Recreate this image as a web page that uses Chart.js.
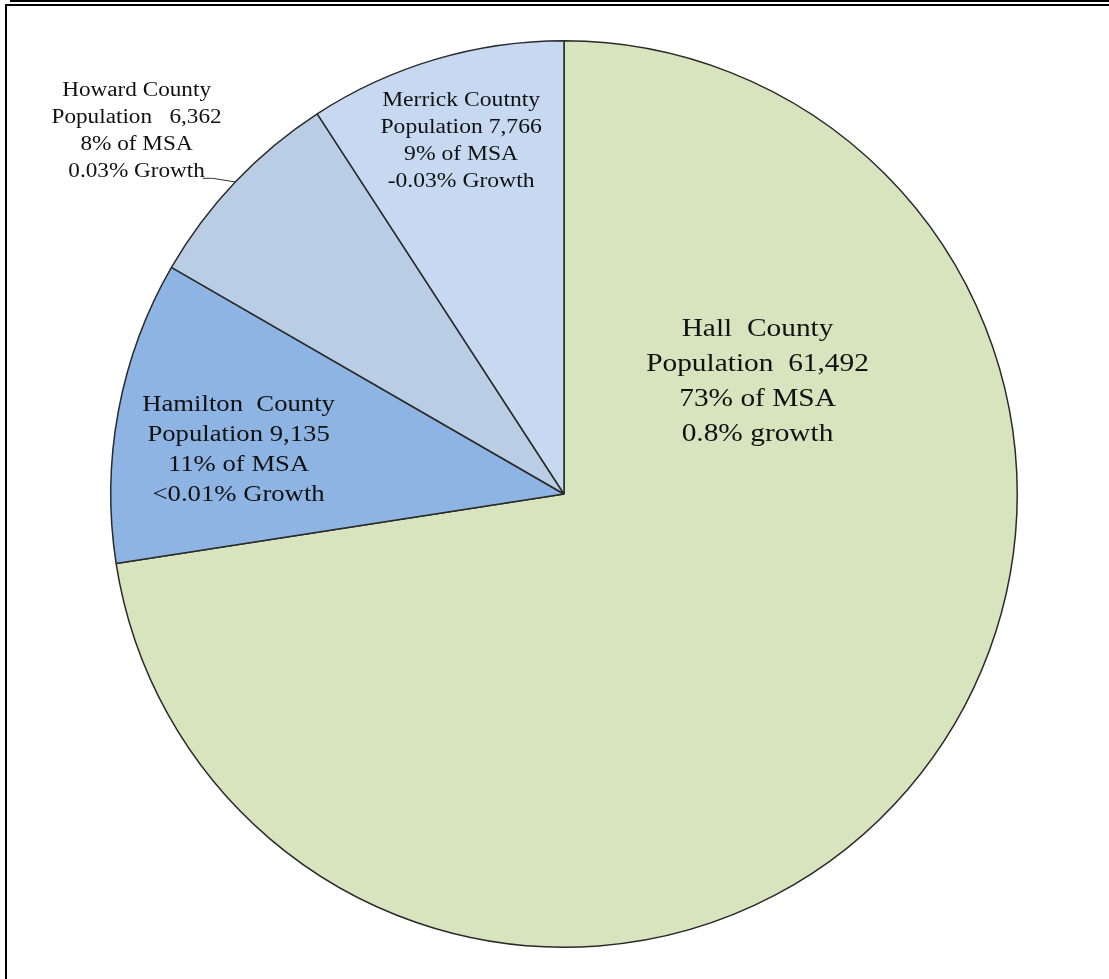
<!DOCTYPE html>
<html lang="en">
<head>
  <meta charset="UTF-8" />
  <title>MSA Population by County</title>
  <script src="https://cdn.jsdelivr.net/npm/chart.js"></script>
  <style>
    html, body { margin: 0; padding: 0; background: #fff; }
    #wrap { position: relative; width: 1109px; height: 979px; overflow: hidden; }
    #pie { position: absolute; left: 0; top: 0; }
    /* double top rule + left rule of the original frame */
    .rule1 { position: absolute; left: 10px; right: 0; top: 0; border-top: 2px solid #000; }
    .rule2 { position: absolute; left: 5px; right: 0; top: 4px; bottom: 0; border-top: 2px solid #000; border-left: 2px solid #000; }
  </style>
</head>
<body>
  <div id="wrap">
    <canvas id="pie" width="1109" height="979"></canvas>
    <div class="rule1"></div>
    <div class="rule2"></div>
  </div>

  <script>
    // data
    const counties = ['Hall County', 'Hamilton County', 'Howard County', 'Merrick Coutnty'];
    const population = [61492, 9135, 6362, 7766];
    const sliceColors = ['#d7e4bd', '#8eb4e3', '#b9cde5', '#c6d9f1'];

    // label text per slice, as printed on the chart
    const labelLines = [
      ['Hall  County', 'Population  61,492', '73% of MSA', '0.8% growth'],
      ['Hamilton  County', 'Population 9,135', '11% of MSA', '<0.01% Growth'],
      ['Howard County', 'Population   6,362', '8% of MSA', '0.03% Growth'],
      ['Merrick Coutnty', 'Population 7,766', '9% of MSA', '-0.03% Growth']
    ];

    // label placement, as fractions of the pie radius from its centre
    const labelAt = [[0.427, -0.247], [-0.718, -0.097], [-0.943, -0.80], [-0.227, -0.778]];
    const labelFont = [26, 23, 20, 20];
    const labelGap = [35, 30, 27, 27];
    const labelStretch = [1.13, 1.16, 1.16, 1.18]; // original text is a bit wide
    const leaderFor = [false, false, true, false];

    const sliceLabels = {
      id: 'sliceLabels',
      afterDatasetsDraw(chart) {
        const c = chart.ctx;
        const arcs = chart.getDatasetMeta(0).data;
        arcs.forEach((arc, i) => {
          const { x, y, outerRadius, startAngle, endAngle } = arc.getProps(['x', 'y', 'outerRadius', 'startAngle', 'endAngle'], true);
          const cx = x + labelAt[i][0] * outerRadius;
          const cy = y + labelAt[i][1] * outerRadius;
          const lines = labelLines[i];
          const sx = labelStretch[i];
          c.save();
          c.fillStyle = '#111';
          c.textAlign = 'center';
          c.textBaseline = 'middle';
          c.font = labelFont[i] + 'px "Liberation Serif", "Times New Roman", serif';
          c.translate(cx, cy);
          c.scale(sx, 1);
          lines.forEach((t, k) => {
            c.fillText(t, 0, (k - (lines.length - 1) / 2) * labelGap[i]);
          });
          const lastW = c.measureText(lines[lines.length - 1]).width * sx;
          c.restore();

          if (leaderFor[i]) {
            const ly = cy + ((lines.length - 1) / 2) * labelGap[i] + labelFont[i] * 0.32;
            const lx = cx + lastW / 2;
            const mid = (startAngle + endAngle) / 2;
            const ex = x + Math.cos(mid) * outerRadius;
            const ey = y + Math.sin(mid) * outerRadius;
            c.save();
            c.strokeStyle = '#333';
            c.lineWidth = 1;
            c.beginPath();
            c.moveTo(lx - 2, ly);
            c.lineTo(lx + 8, ly);
            c.lineTo(ex, ey);
            c.stroke();
            c.restore();
          }
        });
      }
    };

    new Chart(document.getElementById('pie'), {
      type: 'pie',
      data: {
        labels: counties,
        datasets: [{
          data: population,
          backgroundColor: sliceColors,
          borderColor: '#2a2a2a',
          borderWidth: 1.5
        }]
      },
      options: {
        responsive: false,
        animation: false,
        layout: { padding: { top: 40, bottom: 31, left: 110, right: 91 } },
        plugins: { legend: { display: false }, tooltip: { enabled: false } }
      },
      plugins: [sliceLabels]
    });
  </script>
</body>
</html>
